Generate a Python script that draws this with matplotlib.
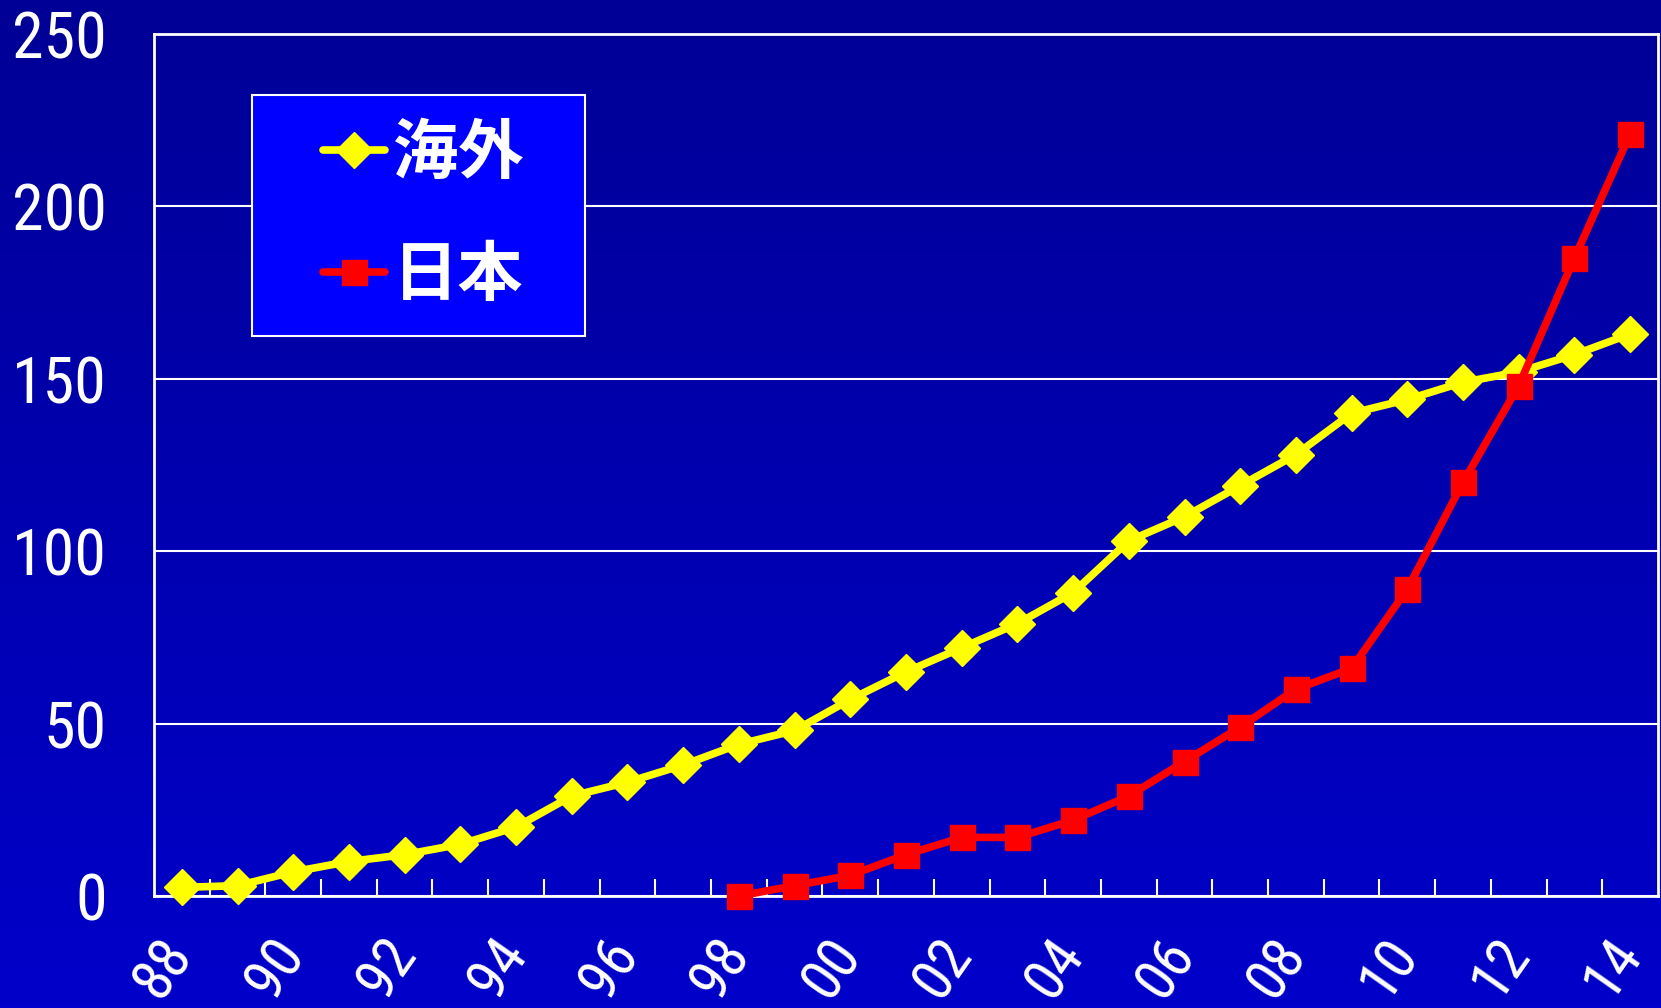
import numpy as np
import matplotlib
matplotlib.use("Agg")
import matplotlib.pyplot as plt
import matplotlib.transforms as mtransforms
from matplotlib import font_manager as fm
from matplotlib.colors import LinearSegmentedColormap
from matplotlib.patches import Rectangle

# years 1988 .. 2014, shown as two-digit labels
years = ["88", "89", "90", "91", "92", "93", "94", "95", "96", "97", "98", "99",
         "00", "01", "02", "03", "04", "05", "06", "07", "08", "09", "10", "11",
         "12", "13", "14"]
overseas = [2.5, 3, 7, 10, 12, 15, 20, 29, 33, 38, 44, 48, 57, 65, 72, 79, 88,
            103, 110, 119, 128, 140, 144, 149, 152, 157, 163]
japan_start = "98"
japan = [0, 3, 6, 12, 17, 17, 22, 29, 39, 49, 60, 66, 89, 120, 148, 185, 221]

# pick a narrow font for the numbers if one is around
names = {f.name for f in fm.fontManager.ttflist}
num_font = {"family": ["Liberation Sans", "DejaVu Sans"], "size": 39}
for cand in ["Liberation Sans Narrow", "Arial Narrow", "Roboto Condensed",
             "Noto Sans Condensed", "Open Sans Condensed"]:
    if cand in names:
        num_font = {"family": [cand, "DejaVu Sans"], "size": 46}
        break
else:
    cond = [f for f in fm.fontManager.ttflist
            if f.stretch in ("condensed", "semi-condensed")
            and f.name in ("DejaVu Sans", "Noto Sans", "Roboto", "Open Sans")]
    if cond:
        num_font = {"family": [cond[0].name], "stretch": "condensed", "size": 42}

fig = plt.figure(figsize=(16.61, 10.08), dpi=100)

# background gradient, darker at the top
bg = fig.add_axes([0, 0, 1, 1], zorder=-10)
bg.axis("off")
grad_cmap = LinearSegmentedColormap.from_list("bg", ["#000096", "#0000CA"])
bg.imshow(np.linspace(0, 1, 256).reshape(-1, 1), aspect="auto", cmap=grad_cmap,
          extent=[0, 1, 0, 1], origin="upper")

ax = fig.add_axes([0.0927, 0.1111, 0.9055, 0.8552])
ax.set_facecolor("none")

x = np.arange(len(years))
j0 = years.index(japan_start)
xj = x[j0:j0 + len(japan)]

ax.plot(x, overseas, color="#FFFF00", lw=5.5, marker="D", ms=18,
        mec="#FFFF00", label="海外", zorder=3, solid_capstyle="round",
        clip_on=False)
ax.plot(xj, japan, color="#FF0000", lw=5.5, marker="s", ms=18,
        mec="#FF0000", label="日本", zorder=4, solid_capstyle="round",
        clip_on=False)

ax.set_xlim(-0.5, len(years) - 0.5)
ax.set_ylim(0, 250)

for s in ax.spines.values():
    s.set_color("white")
    s.set_linewidth(2)

ax.set_yticks(range(0, 251, 50))
ax.grid(axis="y", color="white", lw=1.5)
ax.set_axisbelow(True)
ax.tick_params(axis="y", length=0, pad=34, labelcolor="white")
for lab in ax.get_yticklabels():
    lab.set_fontproperties(fm.FontProperties(**num_font))

# category boundary ticks pointing inward
ax.set_xticks(np.arange(0.5, len(years) - 1, 1.0), minor=True)
ax.tick_params(axis="x", which="minor", direction="in", length=12, width=1.5,
               color="white")
ax.set_xticks(x[::2])
ax.set_xticklabels(years[::2], rotation=55, ha="center", va="center")
ax.tick_params(axis="x", which="major", length=0, pad=52, labelcolor="white")
shift = mtransforms.ScaledTranslation(-18 / 100, 0, fig.dpi_scale_trans)
xfont = dict(num_font)
xfont["size"] = num_font["size"] * 0.92
for lab in ax.get_xticklabels():
    lab.set_fontproperties(fm.FontProperties(**xfont))
    lab.set_transform(lab.get_transform() + shift)

# legend box
ax.add_patch(Rectangle((0.0652, 0.6497), 0.2214, 0.2795, transform=ax.transAxes,
                       facecolor="#0000FF", edgecolor="white", lw=1.5, zorder=5))
leg = ax.legend(loc="center left", bbox_to_anchor=(0.1124, 0.7906),
                frameon=False, borderpad=0, borderaxespad=0,
                handlelength=0.95, handletextpad=0.12, labelspacing=0.85,
                prop={"family": ["Noto Sans CJK JP"], "weight": "bold", "size": 47})
leg.set_zorder(6)
for t in leg.get_texts():
    t.set_color("white")

fig.savefig("out.png", dpi=100)
